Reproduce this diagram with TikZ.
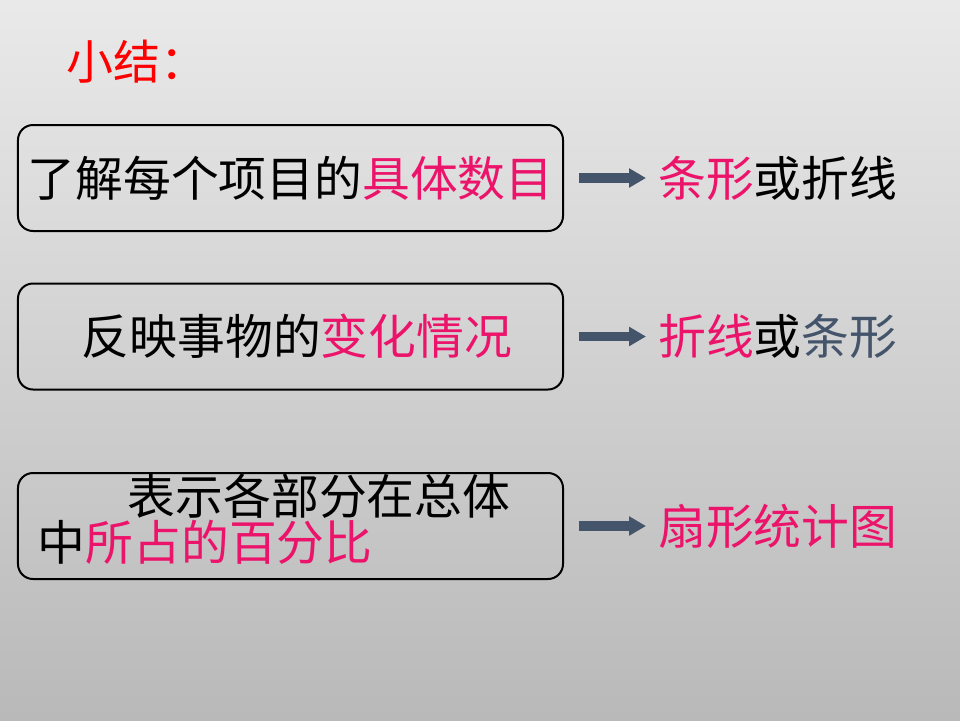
\documentclass[tikz,border=0pt]{standalone}
\usepackage{fontspec}
\setmainfont{Noto Sans CJK SC}
\usetikzlibrary{arrows.meta}
\definecolor{keypink}{RGB}{236,20,106}
\definecolor{slate}{RGB}{68,84,106}
\definecolor{titlered}{RGB}{255,0,0}

\begin{document}
\begin{tikzpicture}[x=0.25mm, y=-0.25mm,
    purpose/.style={rectangle, draw, line width=0.5mm, rounded corners=3.75mm,
        minimum width=136.25mm, minimum height=26.5mm, inner sep=0pt,
        font=\fontsize{34pt}{33pt}\selectfont},
    result/.style={anchor=west, inner sep=0pt,
        font=\fontsize{34pt}{40pt}\selectfont},
    link/.style={draw=slate, line width=2.4mm, -{Triangle[length=4.25mm, width=4.6mm]},
        shorten <=3.75mm, shorten >=3mm}
]
\shade[top color=gray!17, middle color=gray!27, bottom color=gray!55]
    (0,0) rectangle (960,720);
\useasboundingbox (0,0) rectangle (960,720);

\node (Summary) [anchor=west, inner sep=0pt, text=titlered,
    font=\fontsize{33.4pt}{40pt}\selectfont] at (66,62) {小结：};

\node (Purpose01) [purpose] at (290.5,178)
    {了解每个项目的{\color{keypink}具体数目}};
\node (Purpose02) [purpose] at (290.5,336.5)
    {\hspace*{3.25mm}反映事物的{\color{keypink}变化情况}};
\node (Purpose03) [purpose, text width=126.25mm, text depth=16mm, align=left] at (290.5,526)
    {\hspace*{22.5mm}表示各部分在总体\\中{\color{keypink}所占的百分比}};

\node (Chart01) [result] at (658,178) {{\color{keypink}条形}或折线};
\node (Chart02) [result] at (658,336.5) {{\color{keypink}折线}或{\color{slate}条形}};
\node (Chart03) [result, text=keypink] at (658,526) {扇形统计图};

\draw [link] (Purpose01.east) -- (Chart01.west);
\draw [link] (Purpose02.east) -- (Chart02.west);
\draw [link] (Purpose03.east) -- (Chart03.west);

\end{tikzpicture}
\end{document}
